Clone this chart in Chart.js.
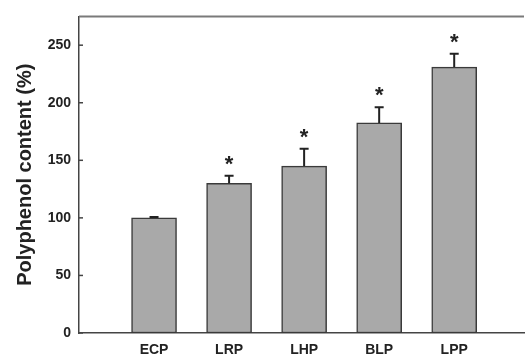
<!DOCTYPE html>
<html>
<head>
<meta charset="utf-8">
<script src="https://cdn.jsdelivr.net/npm/chart.js@4/dist/chart.umd.min.js"></script>
<style>
  html, body { margin: 0; padding: 0; background: #fff; }
  #wrap { width: 525px; height: 361px; position: relative; }
</style>
</head>
<body>
<div id="wrap"><canvas id="chart"></canvas></div>
<script>
// data
var categories = ['ECP', 'LRP', 'LHP', 'BLP', 'LPP'];
var values = [100, 130, 145, 182.5, 231];
var errors = [0.8, 6.5, 15, 13.5, 11.5];
var significant = [false, true, true, true, true];
var yTicks = [0, 50, 100, 150, 200, 250];

var points = values.map(function(v, i){ return { x: i + 1, y: v }; });

var extras = {
  id: 'extras',
  afterDatasetsDraw: function(chart){
    var ctx = chart.ctx;
    var xs = chart.scales.x, ys = chart.scales.y;
    var area = chart.chartArea;
    ctx.save();
    // top frame line
    ctx.strokeStyle = '#7a7a7a';
    ctx.lineWidth = 2;
    ctx.beginPath();
    ctx.moveTo(area.left, area.top);
    ctx.lineTo(area.right, area.top);
    ctx.stroke();
    // y tick marks pointing inward
    ctx.strokeStyle = '#444';
    ctx.lineWidth = 1.5;
    yTicks.forEach(function(t){
      var py = ys.getPixelForValue(t);
      ctx.beginPath();
      ctx.moveTo(area.left, py);
      ctx.lineTo(area.left + 4, py);
      ctx.stroke();
    });
    // error bars (upper only) and stars
    values.forEach(function(v, i){
      var px = xs.getPixelForValue(i + 1);
      var top = ys.getPixelForValue(v);
      var cap = ys.getPixelForValue(v + errors[i]);
      ctx.strokeStyle = '#222';
      ctx.lineWidth = 2;
      ctx.beginPath();
      ctx.moveTo(px, top);
      ctx.lineTo(px, cap);
      ctx.moveTo(px - 4.5, cap);
      ctx.lineTo(px + 4.5, cap);
      ctx.stroke();
      if(significant[i]){
        ctx.fillStyle = '#222';
        ctx.font = 'bold 22px "Liberation Sans", Arial, sans-serif';
        ctx.textAlign = 'center';
        ctx.textBaseline = 'middle';
        ctx.fillText('*', px, cap - 11);
      }
    });
    ctx.restore();
  }
};

new Chart(document.getElementById('chart'), {
  type: 'bar',
  data: {
    datasets: [{
      data: points,
      backgroundColor: '#a9a9a9',
      borderColor: '#3a3a3a',
      borderWidth: 1.5,
      borderSkipped: false,
      barThickness: 45
    }]
  },
  options: {
    responsive: true,
    maintainAspectRatio: false,
    animation: false,
    layout: { padding: { top: 9, right: 1, left: 0, bottom: 0 } },
    plugins: { legend: { display: false }, tooltip: { enabled: false } },
    scales: {
      x: {
        type: 'linear',
        offset: false,
        min: 0,
        max: 5.93,
        grid: { display: false, drawTicks: false },
        border: { display: true, color: '#444', width: 1.5 },
        afterFit: function(s){ s.height = 28; },
        ticks: {
          stepSize: 1,
          includeBounds: false,
          padding: 9,
          color: '#222',
          font: { family: '"Liberation Sans", Arial, sans-serif', size: 14, weight: 'bold' },
          callback: function(v){ return categories[v - 1] || ''; }
        }
      },
      y: {
        min: 0,
        max: 275,
        grid: { display: false, drawTicks: false },
        border: { display: true, color: '#444', width: 1.5 },
        afterFit: function(s){ s.width = 79; },
        ticks: {
          stepSize: 50,
          includeBounds: false,
          padding: 8,
          color: '#222',
          font: { family: '"Liberation Sans", Arial, sans-serif', size: 14, weight: 'bold' },
          callback: function(v){ return yTicks.indexOf(v) >= 0 ? v : ''; }
        },
        title: {
          display: true,
          text: 'Polyphenol content (%)',
          color: '#222',
          padding: { top: 13, bottom: 0 },
          font: { family: '"Liberation Sans", Arial, sans-serif', size: 20, weight: 'bold' }
        }
      }
    }
  },
  plugins: [extras]
});
</script>
</body>
</html>
